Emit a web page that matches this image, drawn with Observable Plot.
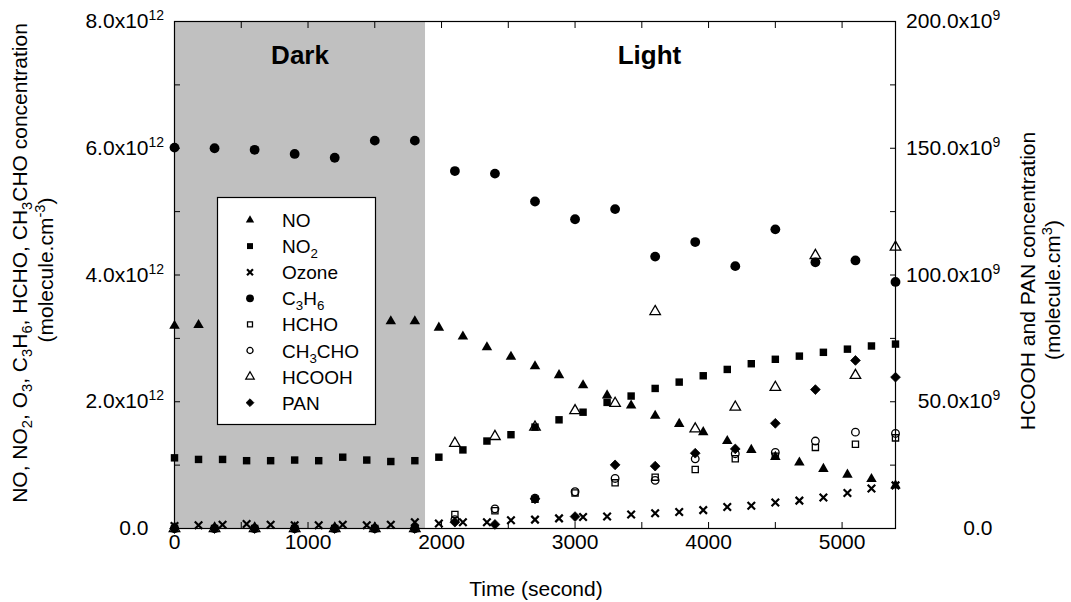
<!DOCTYPE html>
<html>
<head>
<meta charset="utf-8">
<script src="https://cdn.jsdelivr.net/npm/d3@7"></script>
<script src="https://cdn.jsdelivr.net/npm/@observablehq/plot@0.6"></script>
<style>
  body { margin: 0; background: #fff; }
  #chart { width: 1071px; height: 602px; }
  svg text { font-family: "Liberation Sans", Arial, sans-serif; }
</style>
</head>
<body>
<div id="chart"></div>
<script>
// ---------------- data ----------------
// time grids (s)
const tFast = [0,180,360,540,720,900,1080,1260,1440,1620,1800,1980,2160,2340,2520,2700,2880,3060,3240,3420,3600,3780,3960,4140,4320,4500,4680,4860,5040,5220,5400];
const tSlow = [0,300,600,900,1200,1500,1800,2100,2400,2700,3000,3300,3600,3900,4200,4500,4800,5100,5400];

// left axis species (x10^12 molecule.cm-3)
const noVals    = [3.20,3.21,3.20,3.20,3.21,3.20,3.21,3.22,3.24,3.27,3.27,3.17,3.03,2.86,2.71,2.56,2.42,2.26,2.10,1.94,1.78,1.65,1.52,1.38,1.24,1.13,1.04,0.94,0.85,0.78,0.68];
const no2Vals   = [1.115,1.09,1.09,1.07,1.07,1.08,1.07,1.125,1.08,1.057,1.07,1.125,1.24,1.38,1.48,1.60,1.715,1.835,1.99,2.09,2.21,2.31,2.41,2.51,2.60,2.67,2.72,2.78,2.83,2.88,2.91];
const ozoneVals = [0.04,0.05,0.06,0.07,0.06,0.05,0.05,0.06,0.05,0.06,0.10,0.08,0.10,0.10,0.13,0.14,0.16,0.18,0.19,0.22,0.24,0.26,0.29,0.34,0.36,0.41,0.44,0.49,0.56,0.63,0.68];
const c3h6Vals  = [6.01,6.00,5.975,5.91,5.85,6.12,6.12,5.64,5.60,5.16,4.88,5.04,4.29,4.52,4.14,4.72,4.20,4.23,3.89];
const hchoVals  = [0,0,0,0,0,0,0,0.22,0.28,0.46,0.56,0.72,0.81,0.93,1.10,1.14,1.28,1.33,1.43];
const ch3choVals= [0,0,0,0,0,0,0,0.14,0.31,0.48,0.58,0.79,0.76,1.10,1.18,1.20,1.38,1.52,1.50];

// right axis species (x10^9 molecule.cm-3)
const hcoohVals = [0,0,0,0,0,0,0,33.6,36.3,40.0,46.5,49.4,85.6,39.3,47.9,55.7,107.7,60.4,111.0];
const panVals   = [0,0,0,0,0,0,0,2.5,1.6,11.7,4.7,25.1,24.6,29.7,31.4,41.5,54.8,66.3,59.7];

// phases
const phaseNames = ["Dark", "Light"];
const phaseBounds = [0, 1880, 5400];

// ticks
const xMajorTicks = [0,1000,2000,3000,4000,5000];
const xMinorTicks = [0,500,1000,1500,2000,2500,3000,3500,4000,4500,5000];
const yLeftMajor = [0,2,4,6,8];          // x10^12
const yLeftMinor = [0,1,2,3,4,5,6,7,8];
const yRightMajor = [0,50,100,150,200];  // x10^9
const yRightMinor = [0,25,50,75,100,125,150,175,200];
const rightToLeft = 8 / 200;             // right-axis units -> left-axis units

// ---------------- series styling ----------------
const series = [
  {name: "NO",     label: [["NO"]],                       t: tFast, v: noVals,     k: 1, symbol: "triangle", fill: "black", stroke: "none",  r: 3.9, sw: 0},
  {name: "NO2",    label: [["NO"],["2","sub"]],           t: tFast, v: no2Vals,    k: 1, symbol: "square",   fill: "black", stroke: "none",  r: 4.2, sw: 0},
  {name: "Ozone",  label: [["Ozone"]],                    t: tFast, v: ozoneVals,  k: 1, symbol: "times",    fill: "none",  stroke: "black", r: 3.5, sw: 2.2},
  {name: "C3H6",   label: [["C"],["3","sub"],["H"],["6","sub"]], t: tSlow, v: c3h6Vals, k: 1, symbol: "circle", fill: "black", stroke: "none", r: 4.9, sw: 0},
  {name: "HCHO",   label: [["HCHO"]],                     t: tSlow, v: hchoVals,   k: 1, symbol: "square",   fill: "none",  stroke: "black", r: 3.5, sw: 1.3},
  {name: "CH3CHO", label: [["CH"],["3","sub"],["CHO"]],   t: tSlow, v: ch3choVals, k: 1, symbol: "circle",   fill: "none",  stroke: "black", r: 3.8, sw: 1.3},
  {name: "HCOOH",  label: [["HCOOH"]],                    t: tSlow, v: hcoohVals,  k: rightToLeft, symbol: "triangle", fill: "none", stroke: "black", r: 3.9, sw: 1.3},
  {name: "PAN",    label: [["PAN"]],                      t: tSlow, v: panVals,    k: rightToLeft, symbol: "diamond2", fill: "black", stroke: "black", r: 4.4, sw: 0.8}
];

const rows = s => s.t.map((t, i) => ({t, v: s.v[i] * s.k}));

const fmtLeft = d => d === 0 ? "0.0" : d.toFixed(1) + "x10^12";
const fmtRight = d => d === 0 ? "0.0" : (d / rightToLeft).toFixed(1) + "x10^9";

const phases = phaseNames.map((name, i) => ({name, start: phaseBounds[i], end: phaseBounds[i + 1]}));

const plot = Plot.plot({
  width: 1071,
  height: 602,
  marginLeft: 174,
  marginRight: 176,
  marginTop: 21,
  marginBottom: 74,
  x: {domain: [0, 5400]},
  y: {domain: [0, 8]},
  style: {fontFamily: '"Liberation Sans", Arial, sans-serif', fontSize: "21px", color: "black", background: "white", overflow: "visible"},
  marks: [
    Plot.rect(phases.filter(p => p.name === "Dark"), {x1: "start", x2: "end", fill: "#c0c0c0"}),
    Plot.text(phases.filter(p => p.name === "Dark"), {x: d => (d.start + d.end) / 2, frameAnchor: "top", lineAnchor: "bottom", dy: 42, text: "name", fontWeight: "bold", fontSize: 26}),
    Plot.text(phases.filter(p => p.name === "Light"), {x: d => (d.start + d.end) / 2, frameAnchor: "top", lineAnchor: "bottom", dy: 42, dx: -11, text: "name", fontWeight: "bold", fontSize: 26}),
    // axes: inward ticks
    Plot.axisX({anchor: "bottom", ticks: xMinorTicks, tickSize: -6, text: null, label: null}),
    Plot.axisX({anchor: "top", ticks: xMinorTicks, tickSize: -6, text: null, label: null}),
    Plot.axisX({anchor: "bottom", ticks: xMajorTicks, tickSize: 0, tickPadding: 6, tickFormat: d => String(d), label: null}),
    Plot.axisY({anchor: "left", ticks: yLeftMinor, tickSize: -6, text: null, label: null}),
    Plot.axisY({anchor: "left", ticks: yLeftMajor, tickSize: 0, tickPadding: 26, tickFormat: fmtLeft, label: null}),
    Plot.axisY({anchor: "right", ticks: yRightMinor.map(d => d * rightToLeft), tickSize: -6, text: null, label: null}),
    Plot.axisY({anchor: "right", ticks: yRightMajor.map(d => d * rightToLeft), tickSize: 0, tickPadding: 97, textAnchor: "end", tickFormat: fmtRight, label: null}),
    ...series.map(s => Plot.dot(rows(s), {x: "t", y: "v", symbol: s.symbol, r: s.r, fill: s.fill, stroke: s.stroke, strokeWidth: s.sw, clip: false})),
    Plot.frame({stroke: "black", strokeWidth: 1.2})
  ]
});

document.getElementById("chart").appendChild(plot);
const svg = plot;
const ns = "http://www.w3.org/2000/svg";

// superscripts on y tick labels (base right-aligned, exponent hanging)
svg.querySelectorAll('g[aria-label="y-axis tick label"] text').forEach(t => {
  const s = t.textContent;
  const i = s.indexOf("^");
  if (i < 0) return;
  t.textContent = s.slice(0, i);
  const ts = document.createElementNS(ns, "tspan");
  ts.setAttribute("dy", "-8");
  ts.setAttribute("font-size", "14");
  ts.textContent = s.slice(i + 1);
  t.appendChild(ts);
  const w = ts.getComputedTextLength();
  t.setAttribute("x", (+(t.getAttribute("x") || 0)) + w);
});

// helper for rich text with sub/superscripts
function rich(sel, segs, size) {
  let shift = 0;
  segs.forEach(([txt, kind]) => {
    const target = kind === "sub" ? 5 : kind === "sup" ? -8 : 0;
    sel.append("tspan")
      .attr("dy", target - shift)
      .attr("font-size", kind ? size * 0.7 : size)
      .text(txt);
    shift = target;
  });
}

const g = d3.select(svg).append("g");

// left axis title
const lt1 = g.append("text").attr("transform", "translate(27,263) rotate(-90)").attr("text-anchor", "middle").attr("font-size", 21);
rich(lt1, [["NO, NO"],["2","sub"],[", O"],["3","sub"],[", C"],["3","sub"],["H"],["6","sub"],[", HCHO, CH"],["3","sub"],["CHO concentration"]], 21);
const lt2 = g.append("text").attr("transform", "translate(53,270) rotate(-90)").attr("text-anchor", "middle").attr("font-size", 21);
rich(lt2, [["(molecule.cm"],["-3","sup"],[")"]], 21);

// right axis title
const rt1 = g.append("text").attr("transform", "translate(1035,281) rotate(-90)").attr("text-anchor", "middle").attr("font-size", 21);
rich(rt1, [["HCOOH and PAN concentration"]], 21);
const rt2 = g.append("text").attr("transform", "translate(1060,290) rotate(-90)").attr("text-anchor", "middle").attr("font-size", 21);
rich(rt2, [["(molecule.cm"],["3","sup"],[")"]], 21);

// x axis title
g.append("text").attr("x", 536).attr("y", 596).attr("text-anchor", "middle").attr("font-size", 21).text("Time (second)");

// legend
const symMap = {triangle: d3.symbolTriangle, square: d3.symbolSquare, times: d3.symbolTimes, circle: d3.symbolCircle, diamond2: d3.symbolDiamond2};
const lg = g.append("g");
lg.append("rect").attr("x", 217.5).attr("y", 197.5).attr("width", 158).attr("height", 227).attr("fill", "white").attr("stroke", "black").attr("stroke-width", 1.2);
series.forEach((s, i) => {
  const y = 220 + i * 26.1;
  const rr = s.r * 0.8;
  lg.append("path")
    .attr("transform", `translate(250,${y})`)
    .attr("d", d3.symbol(symMap[s.symbol], rr * rr * Math.PI)())
    .attr("fill", s.fill).attr("stroke", s.stroke).attr("stroke-width", s.sw);
  const tx = lg.append("text").attr("x", 282).attr("y", y + 7).attr("text-anchor", "start").attr("font-size", 19);
  rich(tx, s.label, 19);
});
</script>
</body>
</html>
